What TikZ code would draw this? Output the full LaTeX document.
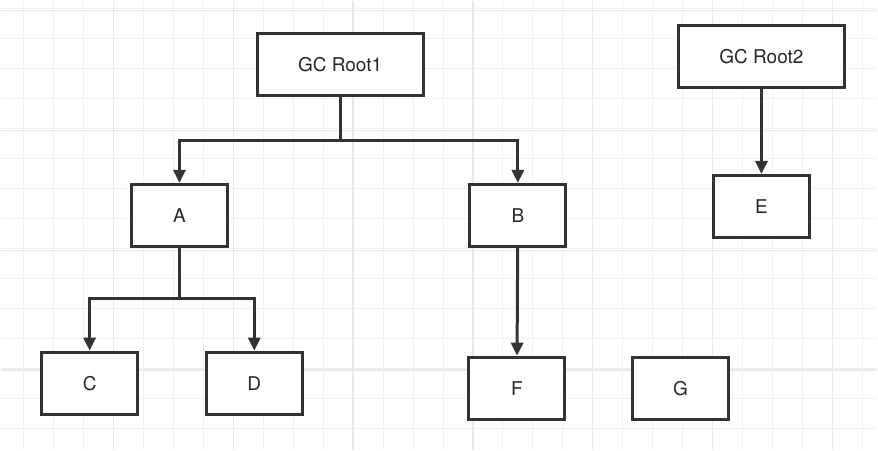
\documentclass[tikz,border=0pt]{standalone}
\usepackage{fontspec}
\setmainfont{TeX Gyre Heros}
\usetikzlibrary{arrows.meta}
\begin{document}
\begin{tikzpicture}[x=1pt,y=-1pt,
  box/.style={draw=black!80,line width=3pt,fill=white,minimum width=96pt,minimum height=62pt,inner sep=0pt,font=\fontsize{19}{22}\selectfont,text=black!85},
  wide/.style={box,minimum width=166pt},
  con/.style={draw=black!80,line width=3pt},
  arr/.style={con,-{Triangle[length=13pt,width=12pt]}}]
\fill[white] (0,0) rectangle (878,450);
\foreach \x in {23,53,...,878} \draw[black!6,line width=1pt] (\x,0) -- (\x,450);
\foreach \y in {8,38,...,450} \draw[black!6,line width=1pt] (0,\y) -- (878,\y);
\foreach \x in {113,233,...,878} \draw[black!9,line width=1.5pt] (\x,0) -- (\x,450);
\foreach \y in {10,130,...,450} \draw[black!9,line width=1.5pt] (0,\y) -- (878,\y);
\useasboundingbox (0,0) rectangle (878,450);
\node[wide] (r1) at (340,64) {GC Root1};
\node[wide] (r2) at (762,56) {GC Root2};
\node[box] (a) at (179,215) {A};
\node[box] (b) at (518,215) {B};
\node[box] (e) at (762,206) {E};
\node[box] (c) at (89,383) {C};
\node[box] (d) at (254,383) {D};
\node[box] (f) at (517,388) {F};
\node[box] (g) at (681,388) {G};
\coordinate (j1) at (340,140);
\coordinate (j2) at (179,298);
\draw[con] (r1) -- (j1);
\draw[arr] (j1) -| (a);
\draw[arr] (j1) -| (b);
\draw[arr] (r2) -- (e);
\draw[con] (a) -- (j2);
\draw[arr] (j2) -| (c);
\draw[arr] (j2) -| (d);
\draw[arr] (b) -- (f);
\end{tikzpicture}
\end{document}
